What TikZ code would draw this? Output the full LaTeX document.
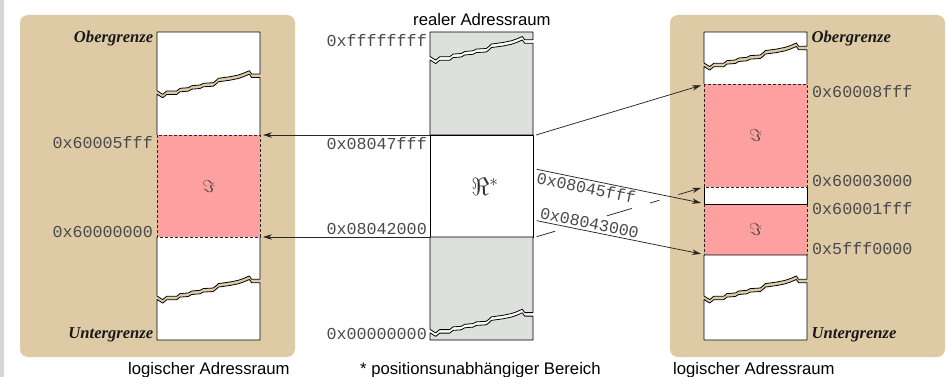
\documentclass[tikz,border=0pt]{standalone}
\usepackage{fontspec}
\setmainfont{Liberation Serif}
\setsansfont{Liberation Sans}
\setmonofont{Liberation Mono}
\usetikzlibrary{arrows.meta}
\definecolor{tanbg}{HTML}{DECBA6}
\definecolor{pinkr}{HTML}{FFA0A0}
\definecolor{grayr}{HTML}{DDE0DC}
\definecolor{stripc}{HTML}{D6D6D6}
\definecolor{hexc}{HTML}{4A4A4A}
% jagged tear edge, starting point (#1,#2) must be written before the macro
\newcommand{\tearline}[2]{-- ({#1+5.7},{#2+3.6}) -- ({#1+9.7},{#2+0.3}) -- ({#1+19.7},{#2+0.3}) -- ({#1+23},{#2-2.4}) -- ({#1+31.3},{#2-3}) -- ({#1+34.7},{#2-5}) -- ({#1+43},{#2-5.7}) -- ({#1+46.3},{#2-7.4}) -- ({#1+56.3},{#2-8}) -- ({#1+59.7},{#2-10.7}) -- ({#1+61.3},{#2-12.4}) -- ({#1+73},{#2-14}) -- ({#1+81.3},{#2-15.7}) -- ({#1+86.3},{#2-17.4}) -- ({#1+92.3},{#2-20}) -- ({#1+94.7},{#2-16.7}) -- ({#1+103},{#2-16.7})}
\tikzset{
  boxline/.style={draw=black, line width=0.8pt, line join=round},
  dashedbox/.style={draw=black!85, line width=0.8pt, dash pattern=on 3.3pt off 1.7pt},
  hexlbl/.style={font=\fontsize{16.7pt}{20pt}\selectfont\ttfamily, text=hexc, inner sep=0pt},
  limlbl/.style={font=\fontsize{16.6pt}{20pt}\selectfont\bfseries\itshape, text=black!90, inner sep=0pt},
  caplbl/.style={font=\fontsize{16.7pt}{20pt}\selectfont\sffamily, text=black, inner sep=0pt},
  imlbl/.style={font=\fontsize{17pt}{20pt}\selectfont, text=black!75, inner sep=0pt},
  arr/.style={-{Stealth[length=9pt,width=5.5pt,inset=3pt]}, line width=0.75pt, draw=black!85, shorten >=3pt},
  sloplbl/.style={font=\fontsize{16.7pt}{20pt}\selectfont\ttfamily, text=hexc, sloped, inner sep=1.8pt}
}
\begin{document}
\begin{tikzpicture}[x=1pt,y=-1pt]
\useasboundingbox (0,0) rectangle (946,377);
\fill[stripc] (0,0) rectangle (3.5,377);
\fill[tanbg, rounded corners=8pt] (20,15) rectangle (295,357);
\fill[tanbg, rounded corners=8pt] (670,15) rectangle (945,357);

% ---- left box (logical)
\fill[white] (157,94.2) \tearline{157}{94.2} -- (260,135) -- (157,135) -- cycle;
\fill[white] (157,296) \tearline{157}{296} -- (260,237) -- (157,237) -- cycle;
\filldraw[fill=white, boxline] (157,90.7) \tearline{157}{90.7} -- (260,32) -- (157,32) -- cycle;
\draw[boxline] (157,135) -- (157,94.2) \tearline{157}{94.2} -- (260,135);
\draw[boxline] (157,237) -- (157,296) \tearline{157}{296} -- (260,237);
\filldraw[fill=white, boxline] (157,299.5) \tearline{157}{299.5} -- (260,340) -- (157,340) -- cycle;
\filldraw[fill=pinkr, dashedbox] (157,135) rectangle (260,237);

% ---- middle box (real)
\filldraw[fill=grayr, boxline] (430,56.5) \tearline{430}{56.5} -- (533,32) -- (430,32) -- cycle;
\filldraw[fill=grayr, boxline] (430,60) \tearline{430}{60} -- (533,135) -- (430,135) -- cycle;
\filldraw[fill=white, boxline] (430,135) rectangle (533,237);
\filldraw[fill=grayr, boxline] (430,329.3) \tearline{430}{329.3} -- (533,237) -- (430,237) -- cycle;
\filldraw[fill=grayr, boxline] (430,332.8) \tearline{430}{332.8} -- (533,340) -- (430,340) -- cycle;

% ---- right box (logical)
\fill[white] (704,66.5) \tearline{704}{66.5} -- (807,84) -- (704,84) -- cycle;
\fill[white] (704,187) rectangle (807,204);
\fill[pinkr] (704,204) rectangle (807,255);
\filldraw[fill=white, boxline] (704,63) \tearline{704}{63} -- (807,32) -- (704,32) -- cycle;
\draw[boxline] (704,84) -- (704,66.5) \tearline{704}{66.5} -- (807,84);
\draw[boxline] (704,187) -- (704,204) -- (807,204) -- (807,187);
\draw[dashedbox] (704,204) -- (704,255) (807,204) -- (807,255);
\filldraw[fill=white, boxline] (704,296) \tearline{704}{296} -- (807,255) -- (704,255) -- cycle;
\filldraw[fill=white, boxline] (704,299.5) \tearline{704}{299.5} -- (807,340) -- (704,340) -- cycle;
\filldraw[fill=pinkr, dashedbox] (704,84) rectangle (807,187);

% ---- connector end points
\coordinate (L135) at (260,135);
\coordinate (L237) at (260,237);
\coordinate (M135l) at (430,135);
\coordinate (M237l) at (430,237);
\coordinate (M135r) at (536,135);
\coordinate (MC) at (536.7,169.3);
\coordinate (MB) at (536.7,220.7);
\coordinate (MA) at (536.7,236.7);
\coordinate (R84) at (704,84.5);
\coordinate (R187) at (704,187);
\coordinate (R204) at (704,203.5);
\coordinate (R255) at (704,254.5);

% ---- connectors
\draw[arr] (M135l) -- (L135);
\draw[arr] (M237l) -- (L237);
\draw[arr] (M135r) -- (R84);
\draw[arr, dash pattern=on 19.1pt off 54pt on 26.1pt off 19.1pt on 9.7pt off 19.9pt on 100pt off 1pt] (MA) -- (R187);
\draw[arr] (MC) -- (R204) node[sloplbl, pos=0, anchor=north west] (lc) {0x08045fff};
\draw[arr] (MB) -- (R255) node[sloplbl, pos=0, anchor=south west] (lb) {0x08043000};

% ---- labels
\node[hexlbl, anchor=base east] (l1) at (153,148.3) {0x60005fff};
\node[hexlbl, anchor=base east] (l2) at (153,237.3) {0x60000000};
\node[hexlbl, anchor=base east] (m1) at (427,46.7) {0xffffffff};
\node[hexlbl, anchor=base east] (m2) at (427,149.5) {0x08047fff};
\node[hexlbl, anchor=base east] (m3) at (427,235) {0x08042000};
\node[hexlbl, anchor=base east] (m4) at (427,339) {0x00000000};
\node[hexlbl, anchor=base west] (r1) at (812,98) {0x60008fff};
\node[hexlbl, anchor=base west] (r2) at (812,186.5) {0x60003000};
\node[hexlbl, anchor=base west] (r3) at (812,214.5) {0x60001fff};
\node[hexlbl, anchor=base west] (r4) at (812,254.5) {0x5fff0000};

\node[limlbl, anchor=base east] (ob1) at (153.5,42.5) {Obergrenze};
\node[limlbl, anchor=base east] (ug1) at (153.5,338.5) {Untergrenze};
\node[limlbl, anchor=base west] (ob2) at (811.5,42.5) {Obergrenze};
\node[limlbl, anchor=base west] (ug2) at (811.5,338.5) {Untergrenze};

\node[caplbl, anchor=base west] (c1) at (413,25.3) {realer Adressraum};
\node[caplbl, anchor=base west] (c2) at (128,374) {logischer Adressraum};
\node[caplbl, anchor=base west] (c3) at (673,374) {logischer Adressraum};
\node[caplbl, anchor=base west] (c4) at (360,374) {* positionsunabhängiger Bereich};

\node[inner sep=0pt, text=black!80] (re) at (485,186.5) {\fontsize{23pt}{26pt}\selectfont$\Re^{*}$};
\node[imlbl] (im1) at (208.5,187) {$\Im$};
\node[imlbl] (im2) at (755.5,136) {$\Im$};
\node[imlbl] (im3) at (755.5,230) {$\Im$};
\end{tikzpicture}
\end{document}
